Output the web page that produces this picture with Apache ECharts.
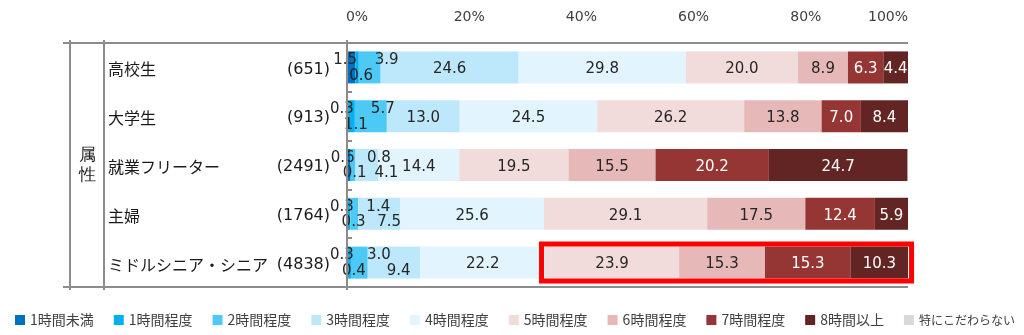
<!DOCTYPE html>
<html><head><meta charset="utf-8">
<script src="https://cdn.jsdelivr.net/npm/echarts@6/dist/echarts.min.js"></script>
<style>html,body{margin:0;padding:0;background:#fff}#c{width:1024px;height:335px}</style>
</head><body><div id="c"></div>
<script>
// ---- data ----
const categories = ['高校生', '大学生', '就業フリーター', '主婦', 'ミドルシニア・シニア'];
const sampleSizes = [651, 913, 2491, 1764, 4838];
const seriesNames = ['1時間未満', '1時間程度', '2時間程度', '3時間程度', '4時間程度', '5時間程度', '6時間程度', '7時間程度', '8時間以上', '特にこだわらない'];
const under1h   = [1.5, 0.3, 0.6, 0.3, 0.3];
const about1h   = [0.6, 1.1, 0.1, 0.3, 0.4];
const about2h   = [3.9, 5.7, 0.8, 1.4, 3.0];
const about3h   = [24.6, 13.0, 4.1, 7.5, 9.4];
const about4h   = [29.8, 24.5, 14.4, 25.6, 22.2];
const about5h   = [20.0, 26.2, 19.5, 29.1, 23.9];
const about6h   = [8.9, 13.8, 15.5, 17.5, 15.3];
const about7h   = [6.3, 7.0, 20.2, 12.4, 15.3];
const over8h    = [4.4, 8.4, 24.7, 5.9, 10.3];
const noPref    = [0, 0, 0, 0, 0];
const xTickLabels = ['0%', '20%', '40%', '60%', '80%', '100%'];
const groupLabel = '属性';
const highlightCategory = 'ミドルシニア・シニア';
const highlightFromSeries = 5;

// ---- style ----
const colors = ['#0070c0', '#00b0f0', '#4dc9f6', '#bde8fb', '#e2f4fd', '#f2dcdb', '#e6b9b8', '#963634', '#632523', '#d9d9d9'];
const seriesValues = [under1h, about1h, about2h, about3h, about4h, about5h, about6h, about7h, over8h, noPref];
const GRID = {left: 347, right: 116, top: 43, bottom: 48};
const BAR_H = 32;
const LINE_COLOR = '#8c8c8c';
const NUM_FONT = 'DejaVu Sans, Noto Sans CJK JP, sans-serif';
const JP_FONT = 'Noto Sans CJK JP, sans-serif';
const SMALL_SERIES = 4; // first series whose small values get staggered labels

function isStaggered(si, v) { return si < SMALL_SERIES && v < 10; }

function labelFor(si, v) {
  const base = {
    show: v !== 0,
    color: si >= 7 ? '#ffffff' : '#262626',
    fontSize: 15,
    fontFamily: NUM_FONT
  };
  if (isStaggered(si, v)) {
    const topY = BAR_H / 2 - 7, botY = BAR_H / 2 + 8.5;
    if (si === 0) return Object.assign(base, {position: ['50%', topY], align: 'center', verticalAlign: 'middle', offset: [-6, 0]});
    if (si === 1) return Object.assign(base, {position: ['50%', botY], align: 'center', verticalAlign: 'middle', offset: [4, 0]});
    if (si === 2) return Object.assign(base, {position: [16, topY], align: 'left', verticalAlign: 'middle'});
    return Object.assign(base, {position: [19, botY], align: 'left', verticalAlign: 'middle'});
  }
  return Object.assign(base, {position: 'inside', offset: [0, 2]});
}
const fmt = p => Number(p.value).toFixed(1);

// visible stacked bars (labels for large segments)
const series = seriesNames.map((name, si) => ({
  name: name,
  type: 'bar',
  stack: 'total',
  barWidth: BAR_H,
  barGap: '-100%',
  z: 2,
  itemStyle: {color: colors[si]},
  emphasis: {disabled: true},
  data: seriesValues[si].map(v => {
    const lb = labelFor(si, v);
    if (isStaggered(si, v)) lb.show = false;
    return {value: v, label: lb};
  }),
  label: {formatter: fmt}
}));
// transparent overlay of the first series, drawn on top, carrying the staggered small labels
for (let si = 0; si < SMALL_SERIES; si++) {
  series.push({
    name: '_label_' + seriesNames[si],
    type: 'bar',
    stack: 'labels',
    barWidth: BAR_H,
    barGap: '-100%',
    z: 5,
    silent: true,
    itemStyle: {color: 'rgba(0,0,0,0)'},
    emphasis: {disabled: true},
    data: seriesValues[si].map(v => {
      const lb = labelFor(si, v);
      if (!isStaggered(si, v)) lb.show = false;
      return {value: v, label: lb};
    }),
    label: {formatter: fmt}
  });
}

const chart = echarts.init(document.getElementById('c'), null, {renderer: 'canvas'});
chart.setOption({
  animation: false,
  backgroundColor: '#ffffff',
  grid: {left: GRID.left, right: GRID.right, top: GRID.top, bottom: GRID.bottom, containLabel: false},
  legend: {
    data: seriesNames,
    left: 15, top: 313, padding: 0, width: 1100,
    icon: 'rect', itemWidth: 10, itemHeight: 10, itemGap: 20,
    selectedMode: false,
    formatter: name => name.length > 5 ? '{s|' + name + '}' : '{n|' + name + '}',
    textStyle: {
      fontSize: 14, color: '#404040', fontFamily: JP_FONT,
      rich: {
        n: {fontSize: 14, color: '#404040', fontFamily: JP_FONT},
        s: {fontSize: 12, color: '#404040', fontFamily: JP_FONT}
      }
    }
  },
  xAxis: {
    type: 'value', position: 'top', min: 0, max: 100, interval: 20,
    axisLine: {show: false}, axisTick: {show: false}, splitLine: {show: false},
    axisLabel: {
      margin: 19,
      formatter: (v) => {
        const t = xTickLabels[Math.round(v / 20)];
        return v === 100 ? '{r|' + t + '}' : '{c|' + t + '}';
      },
      rich: {
        c: {fontSize: 14, color: '#404040', fontFamily: NUM_FONT, padding: [0, 0, 0, 20]},
        r: {fontSize: 14, color: '#404040', fontFamily: NUM_FONT, padding: [0, 40, 0, 0]}
      }
    }
  },
  yAxis: {
    type: 'category', inverse: true, data: categories,
    axisLine: {show: false},
    axisTick: {show: true, inside: true, length: 5, lineStyle: {color: LINE_COLOR, width: 2}},
    axisLabel: {
      align: 'left', margin: 239,
      formatter: (v, i) => '{n|' + v + '}{c|(' + sampleSizes[i] + ')}',
      rich: {
        n: {width: 170, align: 'left', fontSize: 16, color: '#1a1a1a', fontFamily: JP_FONT, padding: [4, 0, 0, 0]},
        c: {width: 52, align: 'right', fontSize: 16, color: '#1a1a1a', fontFamily: NUM_FONT, padding: [4, 0, 0, 0]}
      }
    }
  },
  series: series
});

// ---- table lines and highlight box, placed from the grid / scales ----
const W = chart.getWidth(), H = chart.getHeight();
const gTop = GRID.top, gBot = H - GRID.bottom, gLeft = GRID.left, gRight = W - GRID.right;
const line = (x1, y1, x2, y2) => ({type: 'line', shape: {x1, y1, x2, y2}, style: {stroke: LINE_COLOR, lineWidth: 2}, silent: true, z: 10});
const ci = categories.indexOf(highlightCategory);
let startVal = 0, endVal = 0;
seriesValues.forEach((arr, si) => { if (si < highlightFromSeries) startVal += arr[ci]; endVal += arr[ci]; });
const p0 = chart.convertToPixel({gridIndex: 0}, [startVal, ci]);
const p1 = chart.convertToPixel({gridIndex: 0}, [endVal, ci]);
chart.setOption({
  graphic: [
    line(63, gTop, gRight, gTop),
    line(63, gBot, gRight, gBot),
    line(70, gTop - 3, 70, gBot + 3),
    line(104, gTop - 3, 104, gBot + 3),
    line(gLeft, gTop - 3, gLeft, gBot + 3),
    {type: 'text', x: 87, y: (gTop + gBot) / 2, silent: true,
     style: {text: groupLabel.split('').join('\n'), fontSize: 17, lineHeight: 20, fill: '#1a1a1a', font: '17px Noto Sans CJK JP', align: 'center', verticalAlign: 'middle'}},
    {type: 'rect', silent: true, z: 20,
     shape: {x: p0[0] - 3.5, y: p0[1] - BAR_H / 2 - 2.5, width: p1[0] - p0[0] + 6.5, height: BAR_H + 5},
     style: {fill: 'none', stroke: '#ff0000', lineWidth: 5}}
  ]
});
</script>
</body></html>
